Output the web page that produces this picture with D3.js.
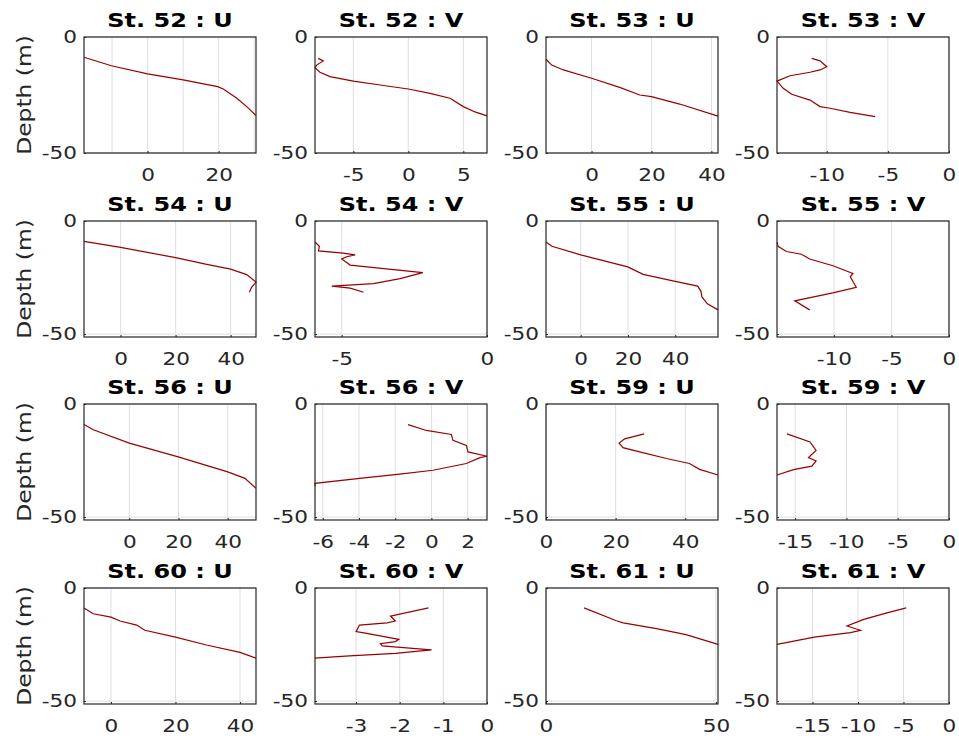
<!DOCTYPE html>
<html><head><meta charset="utf-8">
<script src="https://cdn.jsdelivr.net/npm/d3@7"></script>
<style>body{margin:0;background:#fff;} svg{display:block;font-family:"DejaVu Sans",sans-serif;}</style>
</head><body><svg id="c" width="959" height="739"></svg>
<script>
// [value, depth] pairs
const st52U = [[-17.9,-8.75],[-10.2,-12.4],[0,-15.9],[10,-18.5],[19.7,-21.4],[21.3,-22.4],[25.1,-26.4],[27.9,-30.0],[30.5,-33.9]];
const st52V = [[-8.18,-9.2],[-7.73,-10.3],[-8.33,-12.1],[-8.48,-13.2],[-8.03,-15.2],[-7.12,-17.1],[-5.0,-19.0],[-2.57,-20.7],[0,-22.4],[1.97,-24.3],[3.79,-26.4],[5.0,-30.0],[6.06,-32.3],[7.15,-34.0]];
const st53U = [[-15.2,-9.6],[-13.3,-12.1],[-9.4,-14.2],[0,-17.8],[9.4,-21.7],[16.1,-25.0],[20,-25.7],[29.4,-28.9],[42.2,-34.1]];
const st53V = [[-11.23,-9.2],[-10.55,-10.3],[-10.0,-12.8],[-10.55,-14.2],[-11.37,-15.2],[-13.0,-16.7],[-14.07,-19.0],[-13.56,-22.1],[-12.87,-24.7],[-11.37,-27.2],[-10.55,-30.0],[-9.73,-30.7],[-8.09,-32.5],[-6.04,-34.3]];
const st54U = [[-13.3,-9.0],[0,-11.7],[20,-16.2],[31.3,-19.2],[40,-21.3],[45.8,-23.7],[49.2,-27.0],[47.6,-29.3],[46.8,-31.5]];
const st54V = [[-5.92,-9.3],[-5.77,-11.2],[-5.80,-13.2],[-4.95,-14.2],[-4.54,-15.0],[-4.83,-15.8],[-5.0,-16.8],[-4.71,-19.5],[-2.21,-22.8],[-2.99,-25.5],[-3.91,-27.7],[-5.34,-28.8],[-4.71,-29.7],[-4.25,-31.5]];
const st55U = [[-14.7,-9.3],[-12.2,-11.2],[0,-15.0],[19.9,-20.3],[26.4,-23.6],[40,-26.7],[49.5,-28.8],[50.9,-31.1],[51.3,-33.6],[53.6,-36.6],[58.1,-39.3]];
const st55V = [[-14.95,-9.3],[-14.86,-11.2],[-14.13,-13.5],[-12.83,-14.7],[-12.11,-16.8],[-10.09,-19.8],[-8.35,-23.2],[-8.58,-24.7],[-8.06,-29.3],[-10.09,-31.8],[-13.41,-35.3],[-12.11,-39.3]];
const st56U = [[-18.4,-9.1],[-14.6,-11.4],[0,-17.3],[19.9,-23.4],[40,-30.0],[47.0,-32.9],[51.5,-37.3]];
const st56V = [[-1.29,-9.1],[-0.28,-11.7],[1.1,-13.5],[1.19,-16.1],[1.93,-18.3],[2.02,-21.2],[3.07,-23.1],[2.68,-23.7],[1.93,-26.3],[0.09,-29.3],[-1.75,-31.0],[-3.96,-32.9],[-6.43,-35.1],[-6.43,-36.3]];
const st59U = [[28.2,-13.2],[22.6,-15.4],[21.0,-17.3],[22.1,-19.3],[26.9,-21.2],[34.6,-24.1],[41.2,-26.3],[44.1,-28.9],[49.4,-31.4]];
const st59V = [[-15.8,-13.2],[-13.55,-16.8],[-12.96,-20.5],[-13.7,-23.7],[-12.96,-25.2],[-13.37,-27.5],[-15.15,-29.0],[-16.77,-31.4]];
const st60U = [[-8.37,-8.8],[-5.5,-11.4],[0,-12.9],[2.8,-14.6],[7.97,-16.4],[10.5,-18.7],[20,-21.7],[29.6,-25.2],[40,-28.5],[44.96,-31.0]];
const st60V = [[-1.34,-8.8],[-2.21,-12.4],[-2.10,-14.6],[-2.29,-15.4],[-2.92,-16.4],[-3.0,-19.3],[-2.85,-19.7],[-2.02,-22.7],[-2.10,-23.7],[-2.44,-24.6],[-2.40,-25.6],[-1.42,-27.1],[-1.27,-27.4],[-2.10,-28.9],[-3.15,-30.0],[-3.68,-30.7],[-3.94,-31.0]];
const st61U = [[11.2,-8.8],[20.7,-14.5],[22.7,-15.4],[32.5,-18.0],[41.2,-20.6],[50.6,-24.9]];
const st61V = [[-4.7,-8.8],[-6.82,-11.0],[-9.37,-13.9],[-11.2,-16.8],[-9.73,-18.7],[-10.83,-19.7],[-14.8,-21.7],[-18.9,-24.9]];

const titles = ["St. 52 : U","St. 52 : V","St. 53 : U","St. 53 : V",
                "St. 54 : U","St. 54 : V","St. 55 : U","St. 55 : V",
                "St. 56 : U","St. 56 : V","St. 59 : U","St. 59 : V",
                "St. 60 : U","St. 60 : V","St. 61 : U","St. 61 : V"];
const series = [st52U, st52V, st53U, st53V, st54U, st54V, st55U, st55V,
                st56U, st56V, st59U, st59V, st60U, st60V, st61U, st61V];
const xTickLabels = [[0,20],[-5,0,5],[0,20,40],[-10,-5,0],
                     [0,20,40],[-5,0],[0,20,40],[-10,-5,0],
                     [0,20,40],[-6,-4,-2,0,2],[0,20,40],[-15,-10,-5,0],
                     [0,20,40],[-3,-2,-1,0],[0,50],[-15,-10,-5,0]];
const xGridExtra = [[-10,10,30],[],[],[],[],[],[],[],[],[],[],[],[],[],[],[]];
const yTicks = [0,-50];
const rowYMin = [-50,-51.3,-51.3,-51.3];
const yLabel = "Depth (m)";

const colLeft = [84,315,546,777], rowTop = [37,221,404,588];
const W = 172, H = 116;
const SX = 1.2; // text is wider than DejaVu in the reference
const svg = d3.select("#c");
const lineColor = "#990000", axisColor = "#262626", gridColor = "#dfdfdf";
const fmt = d => String(d).replace("−","-");

series.forEach((data, i) => {
  const r = Math.floor(i/4), c = i%4;
  const x0 = colLeft[c], y0 = rowTop[r];
  const ext = d3.extent(data, d => d[0]);
  const x = d3.scaleLinear().domain([Math.min(0, ext[0]), Math.max(0, ext[1])]).range([x0, x0+W]);
  const y = d3.scaleLinear().domain([rowYMin[r], 0]).range([y0+H, y0]);
  const g = svg.append("g");
  const grid = xTickLabels[i].concat(xGridExtra[i]);
  g.selectAll(".gx").data(grid).join("line")
    .attr("x1", d=>x(d)).attr("x2", d=>x(d)).attr("y1", y0).attr("y2", y0+H)
    .attr("stroke", gridColor).attr("stroke-width",1);
  g.selectAll(".gy").data(yTicks).join("line")
    .attr("x1", x0).attr("x2", x0+W).attr("y1", d=>y(d)).attr("y2", d=>y(d))
    .attr("stroke", gridColor).attr("stroke-width",1);
  g.append("path").datum(data)
    .attr("d", d3.line().x(d=>x(d[0])).y(d=>y(d[1])))
    .attr("fill","none").attr("stroke", lineColor).attr("stroke-width",1.2);
  const xa = g.append("g").attr("transform",`translate(0,${y0+H})`)
    .call(d3.axisBottom(x).tickValues(xTickLabels[i]).tickSizeInner(-2).tickSizeOuter(0).tickPadding(15).tickFormat(fmt));
  const ya = g.append("g").attr("transform",`translate(${x0},0)`)
    .call(d3.axisLeft(y).tickValues(yTicks).tickSizeInner(-2).tickSizeOuter(0).tickPadding(7).tickFormat(fmt));
  [xa, ya].forEach(a => {
    a.select(".domain").remove();
    a.selectAll(".tick line").attr("stroke", axisColor);
    a.selectAll(".tick text").attr("fill", axisColor).style("font-size","18px")
      .style("font-family","'DejaVu Sans',sans-serif")
      .attr("transform", `scale(${SX},1)`);
  });
  ya.selectAll(".tick text").attr("x", -7/SX);
  g.append("rect").attr("x",x0).attr("y",y0).attr("width",W).attr("height",H)
    .attr("fill","none").attr("stroke",axisColor).attr("stroke-width",1.2);
  g.append("text").attr("transform", `translate(${x0+W/2},${y0-10}) scale(${SX},1)`).attr("text-anchor","middle")
    .style("font-size","20px").style("font-weight","bold").attr("fill","#000").text(titles[i]);
  if (c === 0) {
    g.append("text").attr("transform",`translate(31,${y0+H/2}) rotate(-90) scale(${SX},1)`).attr("text-anchor","middle")
      .style("font-size","19.5px").attr("fill",axisColor).text(yLabel);
  }
});
</script></body></html>
